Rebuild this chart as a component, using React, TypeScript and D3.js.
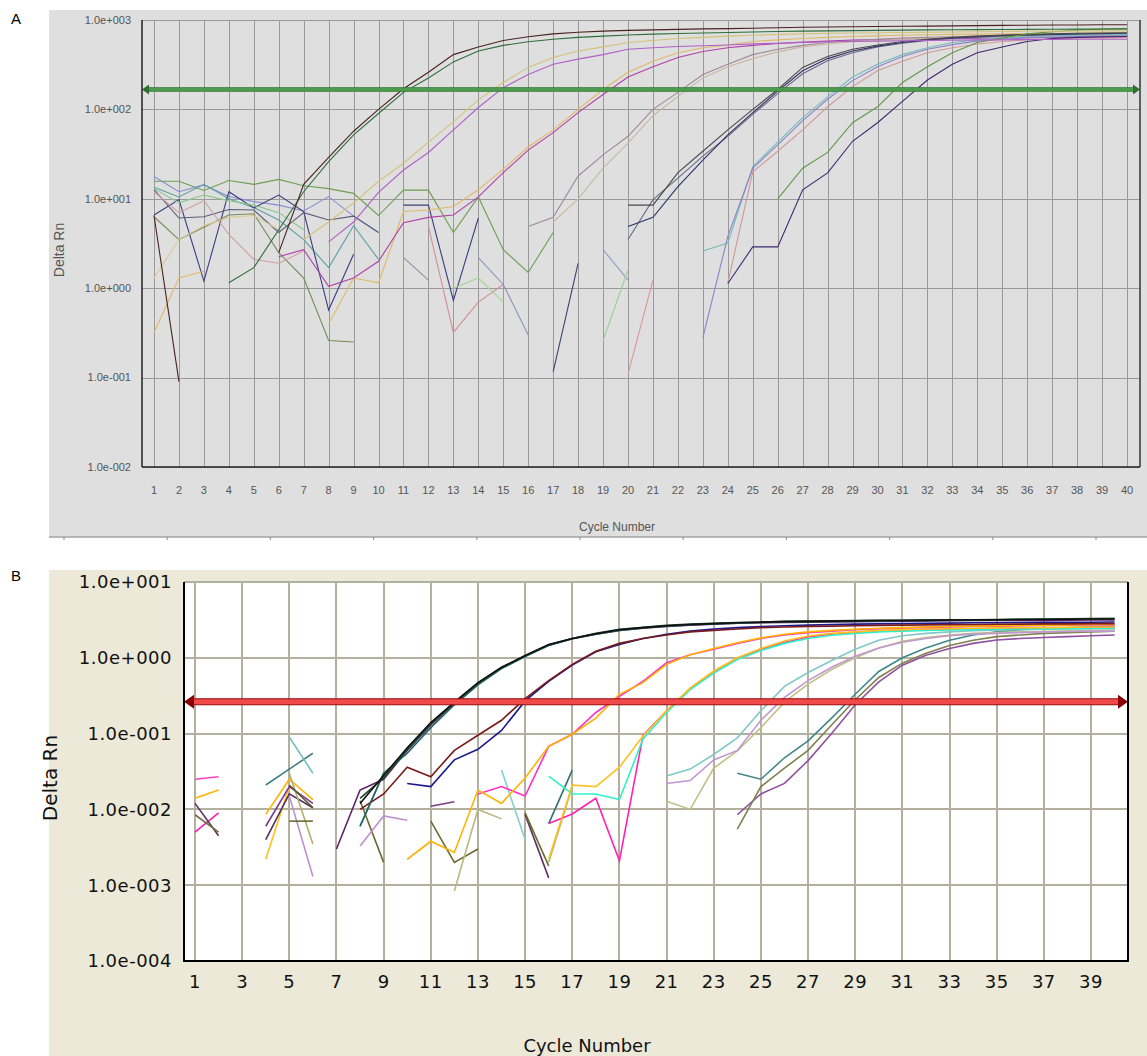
import React, { useEffect, useRef } from 'react';
import * as d3 from 'd3';

// ---------- panel A (cycles 1..40, Delta Rn log scale) ----------
const cyclesA = d3.range(1, 41);
const yTicksA = [1e-2, 1e-1, 1e0, 1e1, 1e2, 1e3];
const yLabelsA = ['1.0e-002', '1.0e-001', '1.0e+000', '1.0e+001', '1.0e+002', '1.0e+003'];
const thresholdA = 167;

// values start at the cycle given in the series list, null = gap (negative dRn)
const aBrown = [6.5, 0.09, null, null, null, 2.5, 14.5, 29, 57, 100, 170, 260, 410, 500, 590, 650, 700, 730, 750, 765, 775, 785, 795, 800, 810, 820, 830, 835, 840, 845, 850, 855, 860, 865, 870, 875, 880, 880, 885, 885];
const aGreen = [1.15, 1.7, 4.5, 12, 26, 52, 90, 155, 225, 340, 450, 520, 570, 610, 640, 660, 680, 695, 705, 715, 725, 735, 745, 750, 755, 760, 765, 770, 775, 778, 780, 783, 785, 788, 790, 792, 795];
const aGold = [3.5, 5.5, 9, 15.7, 25, 43, 73, 128, 200, 295, 380, 450, 500, 560, 590, 620, 640, 660, 675, 690, 700, 710, 715, 720, 725, 730, 735, 740, 745, 748, 750, 752, 755, 755];
const aViolet = [3.3, 5.5, 11.8, 21, 33, 59, 105, 175, 245, 320, 365, 410, 470, 490, 505, 515, 525, 540, 550, 560, 570, 575, 580, 585, 590, 595, 600, 600, 605, 605, 610, 610, 610];
const aTan = [0.32, 1.3, 1.55, null, null, null, null, 0.4, 1.3, 1.15, 7.2, 7.5, 8.2, 12.6, 21.5, 38, 59, 100, 167, 260, 345, 430, 490, 525, 575, 600, 620, 640, 655, 665, 675, 685, 690, 695, 700, 705, 710, 710, 715, 715];
const aMagenta = [2.25, 2.7, 1.05, 1.3, 2.0, 5.4, 6.2, 6.6, 10.5, 19.6, 35, 55, 92, 147, 230, 300, 380, 445, 490, 520, 545, 565, 580, 595, 605, 612, 618, 622, 626, 630, 632, 634, 636, 638, 640];
const aMauve = [4.9, 6.2, 18, 31, 50, 100, 155, 245, 320, 410, 470, 520, 560, 590, 610, 630, 640, 650, 660, 665, 670, 675, 680, 680, 685];
const aBeige = [5.5, 10, 22, 42, 85, 140, 225, 300, 370, 440, 500, 540, 570, 590, 610, 625, 635, 645, 650, 655, 660, 665, 665, 670];
const aDkGray = [8.5, 8.5, 19.6, 34, 59, 100, 167, 295, 390, 470, 525, 575, 610, 640, 660, 680, 690, 700, 710, 715, 720];
const aNavy = [4.9, 6.2, 13.7, 27, 52, 92, 160, 270, 370, 450, 510, 560, 600, 630, 650, 670, 680, 690, 700, 705, 710];
const aSlate = [3.5, 9.8, 17, 30, 50, 88, 150, 250, 350, 430, 500, 550, 590, 620, 640, 660, 670, 680, 690, 695, 700];
const aCyan = [2.6, 3.2, 23, 43, 81, 138, 230, 320, 410, 490, 560, 600, 630, 650, 665, 675, 680, 690];
const aPink = [1.15, 20, 34, 59, 107, 180, 270, 345, 430, 490, 540, 575, 600, 615, 625, 630, 635];
const aLav = [0.28, 3.8, 22, 40, 75, 130, 210, 300, 390, 470, 530, 580, 610, 630, 645, 655, 660, 665];
const aOlive = [10, 22, 33, 71, 107, 200, 300, 430, 560, 630, 700, 740, 770, 790, 800];
const aIndigo = [1.13, 2.9, 2.9, 12.6, 19.5, 44, 71, 123, 213, 320, 430, 500, 575, 620, 640, 650, 655];
// baseline noise
const nGreen = [15.7, 15.7, 12.4, 16, 14.5, 16.5, 14, 13, 11.5, 6.5, 12.5, 12.5, 4.2, 10.5, 2.7, 1.5, 4.2];
const nLav = [17.8, 12, 14.3, 10.6, 9.3, 8.5, 7.3, 10.6, 6.4, 4.2];
const nTeal = [13.5, 10.5, 14.5, 10, 8, 5.8, 3.5, 1.7, 5, 2.1];
const nNavy = [6.6, 9.8, 1.2, 12, 7.9, 11, 7.2, 0.57, 2.4, null, 8.5, 8.5, 0.73, 6.1];
const nSlate = [12.7, 6.1, 6.3, 7.6, 7.5, 4.2, 7, 5.8, 6.4, 4.2];
const nOlive = [6.3, 3.5, 4.8, 6.6, 6.8, 2.5, 1.3, 0.26, 0.25];
const nRose = [12, 7, 9.5, 4, 2.1, 1.9, 2.6];
const nLtGreen = [13, 9, 11, 9.5, 8.5, 7, 4.5];
const nTanLt = [1.3, 3.5, 5, 6.2, 6.5, 4.5];
const sGray = [2.2, 1.23];
const sRose = [4.9, 0.32, 0.7, 1.1];
const sLtGreen = [1.0, 1.3, 0.7];
const sLav = [2.2, 1.1, 0.3];
const sNavy = [0.117, 1.9];
const sLav2 = [2.7, 1.23];
const sLtGreen2 = [0.26, 1.6];
const sRose2 = [0.11, 1.23];

const seriesA: [number, (number | null)[], string][] = [
  [1, nGreen, '#6e9e52'], [1, nLav, '#8c8cd0'], [1, nTeal, '#5aa0a0'], [1, nNavy, '#3c3c80'],
  [1, nSlate, '#5c5c78'], [1, nOlive, '#7a8a5a'], [1, nRose, '#d0a0a8'], [1, nLtGreen, '#88c888'],
  [1, nTanLt, '#d8c890'], [11, sGray, '#9090a0'], [12, sRose, '#d09098'], [13, sLtGreen, '#a0d890'],
  [14, sLav, '#9090c0'], [17, sNavy, '#404070'], [19, sLav2, '#9898c8'], [19, sLtGreen2, '#98d098'],
  [20, sRose2, '#d89898'],
  [1, aTan, '#e0b868'], [6, aMagenta, '#b040a8'], [16, aMauve, '#a08898'], [17, aBeige, '#c8b8a0'],
  [20, aSlate, '#6a6a88'], [20, aNavy, '#303068'], [20, aDkGray, '#4a4a4a'], [23, aCyan, '#74bcbc'],
  [24, aPink, '#d09898'], [23, aLav, '#9080c8'], [26, aOlive, '#609848'], [24, aIndigo, '#3a2a70'],
  [8, aViolet, '#b060c8'], [7, aGold, '#d4c278'], [4, aGreen, '#2f6e3a'], [1, aBrown, '#4a2222'],
];

// ---------- panel B (cycles 1..40, labels on odd cycles) ----------
const yTicksB = [1e-4, 1e-3, 1e-2, 1e-1, 1e0, 1e1];
const yLabelsB = ['1.0e-004', '1.0e-003', '1.0e-002', '1.0e-001', '1.0e+000', '1.0e+001'];
const xTicksB = [1, 3, 5, 7, 9, 11, 13, 15, 17, 19, 21, 23, 25, 27, 29, 31, 33, 35, 37, 39];
const thresholdB = 0.263;

const bBlack = [0.012, 0.028, 0.065, 0.14, 0.26, 0.47, 0.75, 1.07, 1.5, 1.8, 2.08, 2.35, 2.5, 2.65, 2.75, 2.82, 2.9, 2.95, 3.0, 3.02, 3.05, 3.07, 3.1, 3.1, 3.12, 3.15, 3.15, 3.17, 3.2, 3.2, 3.22, 3.25, 3.25];
const bDkGreen = [0.014, 0.026, 0.062, 0.135, 0.255, 0.46, 0.74, 1.06, 1.48, 1.8, 2.1, 2.37, 2.52, 2.68, 2.78, 2.85, 2.92, 2.97, 3.02, 3.05, 3.08, 3.1, 3.12, 3.13, 3.15, 3.17, 3.18, 3.2, 3.22, 3.25, 3.27, 3.3, 3.3];
const bDkTeal = [0.006, 0.03, 0.055, 0.12, 0.24, 0.44, 0.72, 1.04, 1.45, 1.78, 2.05, 2.3, 2.48, 2.62, 2.72, 2.8, 2.87, 2.92, 2.97, 3.0, 3.02, 3.05, 3.07, 3.1, 3.12, 3.13, 3.15, 3.17, 3.2, 3.22, 3.25, 3.27, 3.3];
const bDkPurple = [0.003, 0.018, 0.025, 0.06, 0.13, 0.25, 0.46, 0.74, 1.05, 1.47, 1.78, 2.05, 2.3, 2.45, 2.6, 2.7, 2.78, 2.85, 2.9, 2.93, 2.96, 2.98, 3.0, 3.02, 3.04, 3.06, 3.08, 3.1, 3.1, 3.12, 3.12, 3.14, 3.15, 3.15];
const bMaroon = [0.01, 0.016, 0.036, 0.027, 0.06, 0.095, 0.15, 0.29, 0.5, 0.82, 1.22, 1.55, 1.8, 2.0, 2.2, 2.3, 2.4, 2.5, 2.55, 2.6, 2.62, 2.65, 2.68, 2.7, 2.72, 2.74, 2.75, 2.77, 2.78, 2.8, 2.8, 2.82, 2.82];
const bNavy = [0.022, 0.02, 0.045, 0.062, 0.11, 0.27, 0.49, 0.8, 1.2, 1.5, 1.8, 2.05, 2.25, 2.4, 2.5, 2.58, 2.65, 2.7, 2.75, 2.78, 2.8, 2.82, 2.85, 2.87, 2.9, 2.9, 2.92, 2.93, 2.95, 2.95, 2.97];
const bOrange = [0.0022, 0.0038, 0.0027, 0.018, 0.012, 0.026, 0.068, 0.098, 0.16, 0.33, 0.47, 0.82, 1.1, 1.33, 1.58, 1.83, 2.05, 2.2, 2.3, 2.38, 2.45, 2.5, 2.55, 2.6, 2.62, 2.65, 2.68, 2.7, 2.72, 2.75, 2.75];
const bMagenta = [0.016, 0.02, 0.015, 0.068, 0.098, 0.19, 0.31, 0.49, 0.86, 1.1, 1.3, 1.55, 1.8, 2.0, 2.15, 2.25, 2.35, 2.42, 2.48, 2.52, 2.56, 2.6, 2.62, 2.65, 2.68, 2.7, 2.72, 2.72];
const bOrange2 = [0.0022, 0.021, 0.02, 0.036, 0.093, 0.2, 0.4, 0.67, 1.0, 1.33, 1.67, 1.94, 2.1, 2.2, 2.3, 2.35, 2.4, 2.42, 2.45, 2.48, 2.5, 2.5, 2.52, 2.55, 2.55];
const bCyan = [0.0275, 0.016, 0.016, 0.0135, 0.085, 0.19, 0.38, 0.63, 0.95, 1.25, 1.55, 1.8, 1.98, 2.1, 2.2, 2.25, 2.3, 2.33, 2.35, 2.38, 2.4, 2.42, 2.42, 2.45, 2.45];
const bMagenta2 = [0.0065, 0.0087, 0.014, 0.0021, 0.095, 0.2, 0.39, 0.65, 0.98, 1.3, 1.6, 1.88, 2.05, 2.15, 2.25, 2.3, 2.35, 2.38, 2.4, 2.42, 2.45, 2.47, 2.48, 2.5, 2.5];
const bLtCyan = [0.0275, 0.034, 0.053, 0.088, 0.2, 0.42, 0.64, 0.92, 1.3, 1.7, 1.95, 2.1, 2.2, 2.28, 2.32, 2.35, 2.38, 2.4, 2.42, 2.42];
const bLavender = [0.022, 0.024, 0.045, 0.06, 0.15, 0.3, 0.5, 0.75, 1.05, 1.35, 1.6, 1.8, 1.95, 2.05, 2.1, 2.15, 2.2, 2.22, 2.25, 2.25];
const bKhaki = [0.0128, 0.01, 0.035, 0.059, 0.12, 0.26, 0.45, 0.7, 1.0, 1.35, 1.65, 1.85, 2.0, 2.1, 2.15, 2.2, 2.22, 2.25, 2.28, 2.3];
const bTeal = [0.03, 0.025, 0.048, 0.08, 0.16, 0.33, 0.66, 1.0, 1.35, 1.7, 2.0, 2.2, 2.35, 2.45, 2.5, 2.55, 2.6];
const bOlive = [0.0055, 0.02, 0.035, 0.06, 0.13, 0.28, 0.55, 0.85, 1.15, 1.45, 1.7, 1.9, 2.0, 2.1, 2.15, 2.2, 2.25];
const bPurple = [0.0085, 0.016, 0.022, 0.044, 0.1, 0.24, 0.48, 0.8, 1.08, 1.33, 1.55, 1.72, 1.8, 1.85, 1.9, 1.95, 2.0];
// early noise fragments
const bn1 = [0.025, 0.027];
const bn2 = [0.014, 0.018];
const bn3 = [0.005, 0.009];
const bn4 = [0.012, 0.0045];
const bn5 = [0.0085, 0.005];
const bn6 = [0.021, 0.034, 0.055];
const bn7 = [0.09, 0.03];
const bn8 = [0.0086, 0.025, 0.0135];
const bn9 = [0.0022, 0.02];
const bn10 = [0.004, 0.016, 0.0105];
const bn11 = [0.006, 0.02, 0.012];
const bn12 = [0.015, 0.0013];
const bn13 = [0.03, 0.0035];
const bn14 = [0.007, 0.007];
const bn15 = [0.021, 0.0105];
const bn16 = [0.006, 0.03];
const bn17 = [0.013, 0.002];
const bn18 = [0.0033, 0.0082, 0.0072];
const bn19 = [0.011, 0.0126];
const bn20 = [0.007, 0.002, 0.003];
const bn21 = [0.00084, 0.01, 0.0075];
const bn22 = [0.033, 0.004];
const bn23 = [0.0086, 0.00125];
const bn24 = [0.009, 0.0018];
const bn25 = [0.002, 0.02];
const bn26 = [0.0065, 0.033];

const seriesB: [number, (number | null)[], string][] = [
  [1, bn1, '#ff40c0'], [1, bn2, '#ffb300'], [1, bn3, '#ff20b0'], [1, bn4, '#603060'], [1, bn5, '#707040'],
  [4, bn6, '#408080'], [5, bn7, '#70c0c0'], [4, bn8, '#ffb300'], [4, bn9, '#ffc020'], [4, bn10, '#503060'],
  [4, bn11, '#7a3a8a'], [5, bn12, '#c090d0'], [5, bn13, '#b0b070'], [5, bn14, '#6a6a30'], [5, bn15, '#5a5a28'],
  [8, bn16, '#408080'], [8, bn17, '#6a6a30'], [8, bn18, '#c090d0'], [11, bn19, '#7a3a8a'], [11, bn20, '#6a6a30'],
  [12, bn21, '#b8b880'], [14, bn22, '#80d0d0'], [15, bn23, '#603060'], [15, bn24, '#6a6a30'], [16, bn25, '#b0b070'],
  [16, bn26, '#307070'],
  [24, bPurple, '#9050a0'], [24, bOlive, '#808050'], [24, bTeal, '#408888'],
  [21, bKhaki, '#c0c088'], [21, bLavender, '#c098d0'], [21, bLtCyan, '#80c8c8'],
  [16, bMagenta2, '#ff20b0'], [16, bCyan, '#30f0c8'], [16, bOrange2, '#ffc020'],
  [13, bMagenta, '#ff30c8'], [10, bOrange, '#ffb300'],
  [10, bNavy, '#1a1a90'], [8, bMaroon, '#7a1a1a'],
  [7, bDkPurple, '#602068'], [8, bDkTeal, '#1f6464'], [8, bDkGreen, '#1f4a2a'], [8, bBlack, '#101010'],
];

const sans = 'Liberation Sans, Arial, sans-serif';
const msSans = 'DejaVu Sans, Verdana, sans-serif';

function toPoints(start: number, vals: (number | null)[]) {
  return vals.map((v, i) => [start + i, v] as [number, number | null]);
}

function drawA(svg: any) {
  var left = 142, right = 1140, top = 20, bottom = 467;
  var x = d3.scaleLinear().domain([1, 40]).range([154, 1127]);
  var y = d3.scaleLog().domain([1e-2, 1e3]).range([bottom, top]);

  svg.append('rect').attr('x', 49).attr('y', 10).attr('width', 1098).attr('height', 527).attr('fill', '#dfdfdf');
  // window frame line under the panel
  svg.append('line').attr('x1', 49).attr('x2', 1147).attr('y1', 537).attr('y2', 537)
    .attr('stroke', '#a4a4a4').attr('stroke-width', 1.5);
  svg.selectAll('.frametick').data(d3.range(0, 11)).enter().append('line')
    .attr('x1', (i: number) => 64 + i * 103.2).attr('x2', (i: number) => 64 + i * 103.2)
    .attr('y1', 537).attr('y2', 540).attr('stroke', '#888');

  var g = svg.append('g');
  g.selectAll('.vgrid').data(cyclesA).enter().append('line')
    .attr('x1', (d: number) => Math.round(x(d)) + 0.5).attr('x2', (d: number) => Math.round(x(d)) + 0.5)
    .attr('y1', top).attr('y2', bottom).attr('stroke', '#9a9a9a').attr('stroke-width', 1);
  g.selectAll('.hgrid').data(yTicksA).enter().append('line')
    .attr('x1', left).attr('x2', right)
    .attr('y1', (d: number) => Math.round(y(d)) + 0.5).attr('y2', (d: number) => Math.round(y(d)) + 0.5)
    .attr('stroke', '#9a9a9a').attr('stroke-width', 1);

  var line = d3.line<[number, number | null]>()
    .defined(d => d[1] != null)
    .x(d => x(d[0]))
    .y(d => y(d[1] as number));

  seriesA.forEach(([start, vals, color]) => {
    g.append('path').attr('d', line(toPoints(start, vals)))
      .attr('fill', 'none').attr('stroke', color).attr('stroke-width', 1.1);
  });

  // threshold with arrows
  var ty = y(thresholdA);
  g.append('rect').attr('x', left + 4).attr('y', ty - 2).attr('width', right - left - 8).attr('height', 4)
    .attr('fill', '#4c9a4c').attr('stroke', '#2f6f2f').attr('stroke-width', 0.6);
  g.append('path').attr('d', `M${left},${ty} L${left + 7},${ty - 5} L${left + 7},${ty + 5} Z`).attr('fill', '#2f6f2f');
  g.append('path').attr('d', `M${right},${ty} L${right - 7},${ty - 5} L${right - 7},${ty + 5} Z`).attr('fill', '#2f6f2f');

  // axes
  g.append('line').attr('x1', left).attr('x2', left).attr('y1', top).attr('y2', bottom).attr('stroke', '#222').attr('stroke-width', 1.5);
  g.append('line').attr('x1', left).attr('x2', right).attr('y1', bottom).attr('y2', bottom).attr('stroke', '#222').attr('stroke-width', 1.5);
  g.append('line').attr('x1', right).attr('x2', right).attr('y1', top).attr('y2', bottom).attr('stroke', '#333').attr('stroke-width', 1.5);

  g.selectAll('.ylab').data(yTicksA).enter().append('text')
    .attr('x', 131).attr('y', (d: number) => y(d)).attr('dy', '0.35em')
    .attr('text-anchor', 'end').style('font-family', sans).style('font-size', '11px').style('fill', '#555')
    .text((d: number, i: number) => yLabelsA[i]);
  g.selectAll('.xlab').data(cyclesA).enter().append('text')
    .attr('x', (d: number) => x(d)).attr('y', 494)
    .attr('text-anchor', 'middle').style('font-family', sans).style('font-size', '11px').style('fill', '#555')
    .text((d: number) => d);

  g.append('text').attr('x', 617).attr('y', 531).attr('text-anchor', 'middle')
    .style('font-family', sans).style('font-size', '12px').style('fill', '#555').text('Cycle Number');
  g.append('text').attr('transform', 'translate(64,250) rotate(-90)').attr('text-anchor', 'middle')
    .style('font-family', sans).style('font-size', '14px').style('fill', '#555').text('Delta Rn');

  svg.append('text').attr('x', 11).attr('y', 24).style('font-family', sans).style('font-size', '15px').text('A');
}

function drawB(svg: any) {
  var left = 184, right = 1128, top = 582, bottom = 961;
  var x = d3.scaleLinear().domain([1, 39]).range([195, 1091]);
  var y = d3.scaleLog().domain([1e-4, 1e1]).range([bottom, top]);

  svg.append('rect').attr('x', 49).attr('y', 570).attr('width', 1098).attr('height', 486).attr('fill', '#ece9d8');
  svg.append('rect').attr('x', left).attr('y', top).attr('width', right - left).attr('height', bottom - top).attr('fill', '#fff');

  var g = svg.append('g');
  g.selectAll('.vgrid').data(xTicksB).enter().append('line')
    .attr('x1', (d: number) => Math.round(x(d))).attr('x2', (d: number) => Math.round(x(d)))
    .attr('y1', top).attr('y2', bottom).attr('stroke', '#b4b0a0').attr('stroke-width', 2);
  g.selectAll('.hgrid').data(yTicksB).enter().append('line')
    .attr('x1', left).attr('x2', right)
    .attr('y1', (d: number) => Math.round(y(d))).attr('y2', (d: number) => Math.round(y(d)))
    .attr('stroke', '#b4b0a0').attr('stroke-width', 2);

  var line = d3.line<[number, number | null]>()
    .defined(d => d[1] != null)
    .x(d => x(d[0]))
    .y(d => y(d[1] as number));

  seriesB.forEach(([start, vals, color]) => {
    g.append('path').attr('d', line(toPoints(start, vals)))
      .attr('fill', 'none').attr('stroke', color).attr('stroke-width', 1.6);
  });

  var ty = y(thresholdB);
  g.append('rect').attr('x', left + 8).attr('y', ty - 3).attr('width', right - left - 16).attr('height', 6)
    .attr('fill', '#f04a4a').attr('stroke', '#9a0a0a').attr('stroke-width', 1);
  g.append('path').attr('d', `M${left},${ty} L${left + 10},${ty - 7} L${left + 10},${ty + 7} Z`).attr('fill', '#8b0000');
  g.append('path').attr('d', `M${right},${ty} L${right - 10},${ty - 7} L${right - 10},${ty + 7} Z`).attr('fill', '#8b0000');

  g.append('line').attr('x1', left).attr('x2', left).attr('y1', top).attr('y2', bottom + 1).attr('stroke', '#000').attr('stroke-width', 2);
  g.append('line').attr('x1', left).attr('x2', right + 1).attr('y1', bottom).attr('y2', bottom).attr('stroke', '#000').attr('stroke-width', 2);
  g.append('line').attr('x1', right).attr('x2', right).attr('y1', top).attr('y2', bottom).attr('stroke', '#000').attr('stroke-width', 2);

  g.selectAll('.ylab').data(yTicksB).enter().append('text')
    .attr('x', 172).attr('y', (d: number) => y(d)).attr('dy', '0.36em')
    .attr('text-anchor', 'end').style('font-family', msSans).style('font-size', '18px')
    .style('letter-spacing', '0.5px').style('fill', '#111')
    .text((d: number, i: number) => yLabelsB[i]);
  g.selectAll('.xlab').data(xTicksB).enter().append('text')
    .attr('x', (d: number) => x(d)).attr('y', 988)
    .attr('text-anchor', 'middle').style('font-family', msSans).style('font-size', '18px')
    .style('letter-spacing', '0.5px').style('fill', '#111')
    .text((d: number) => d);

  g.append('text').attr('x', 587).attr('y', 1052).attr('text-anchor', 'middle')
    .style('font-family', msSans).style('font-size', '18px').style('fill', '#111').text('Cycle Number');
  g.append('text').attr('transform', 'translate(57,778) rotate(-90)').attr('text-anchor', 'middle')
    .style('font-family', msSans).style('font-size', '20px').style('fill', '#111').text('Delta Rn');

  svg.append('text').attr('x', 11).attr('y', 581).style('font-family', sans).style('font-size', '15px').text('B');
}

export default function App() {
  const ref = useRef<SVGSVGElement>(null);

  useEffect(() => {
    const svg = d3.select(ref.current);
    svg.selectAll('*').remove();
    drawA(svg);
    drawB(svg);
  }, []);

  return (
    <svg ref={ref} width={1147} height={1056}
      style={{ position: 'absolute', left: 0, top: 0, background: '#fff' }} />
  );
}
